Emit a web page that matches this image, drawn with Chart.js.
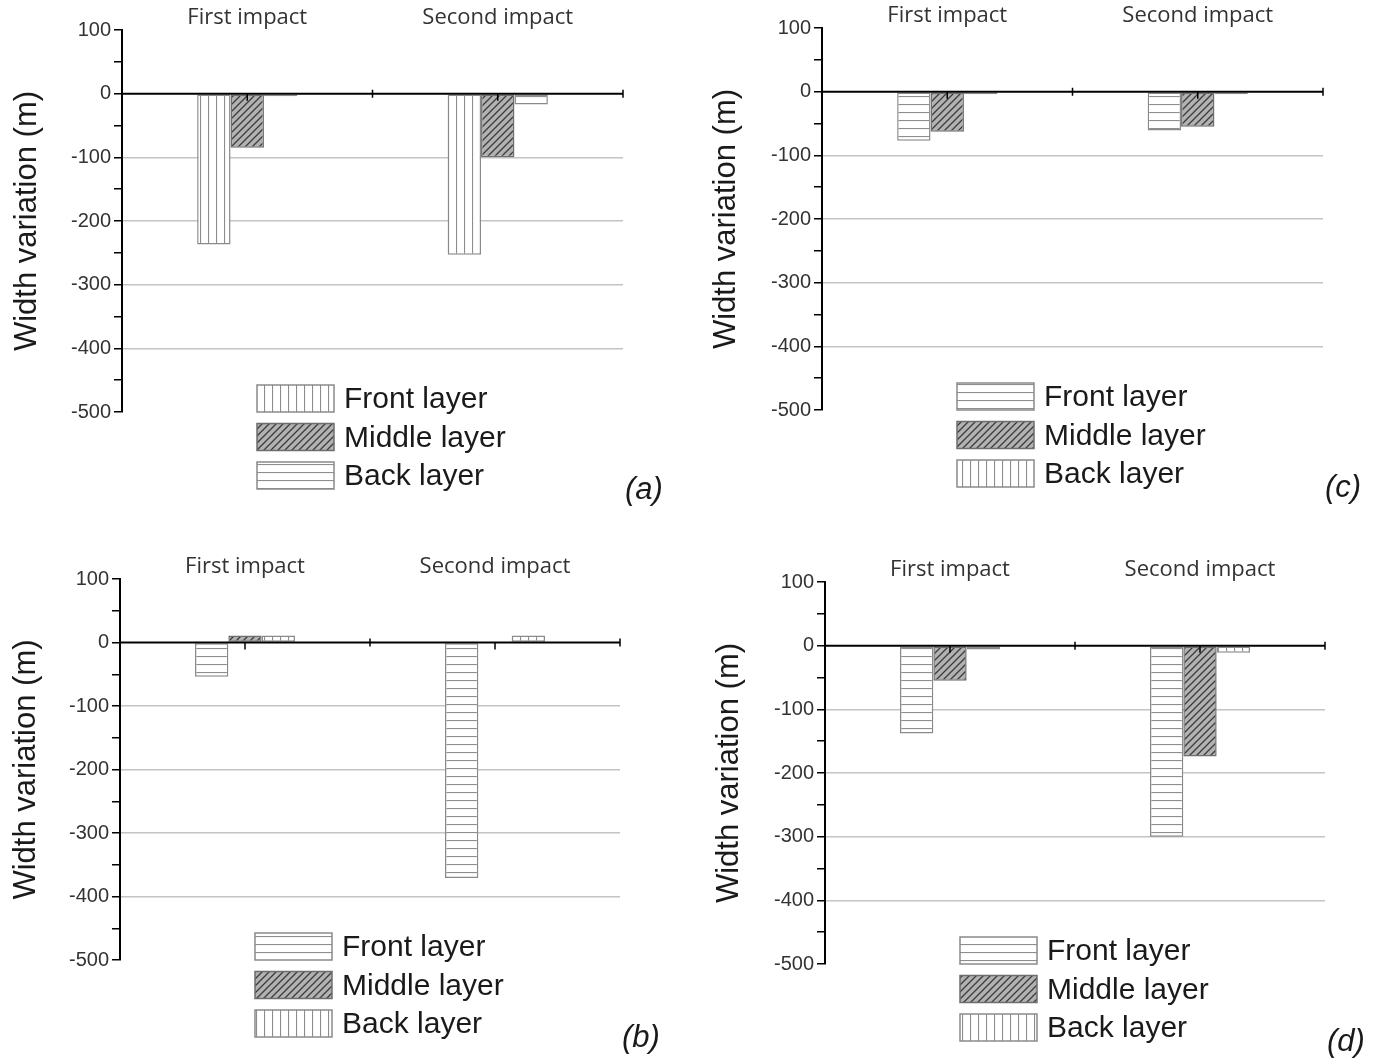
<!DOCTYPE html>
<html>
<head>
<meta charset="utf-8">
<script src="https://cdn.jsdelivr.net/npm/chart.js@4.4.1/dist/chart.umd.min.js"></script>
<style>
  body { margin: 0; background: #fff; width: 1380px; height: 1059px; position: relative; overflow: hidden; }
  canvas { position: absolute; }
</style>
</head>
<body>
<canvas id="chartA" width="690" height="520" style="left:0;top:0"></canvas>
<canvas id="chartC" width="690" height="520" style="left:690px;top:0"></canvas>
<canvas id="chartB" width="690" height="539" style="left:0;top:520px"></canvas>
<canvas id="chartD" width="690" height="539" style="left:690px;top:520px"></canvas>
<script>
const categories = ["First impact", "Second impact"];
const seriesNames = ["Front layer", "Middle layer", "Back layer"];
const yTickValues = [100, 0, -100, -200, -300, -400, -500];

// panel (a)
const frontA = [-237, -253];
const middleA = [-85, -100];
const backA = [-4, -17];
// panel (b)
const frontB = [-54, -371];
const middleB = [11, null];
const backB = [11, 11];
// panel (c)
const frontC = [-77, -61];
const middleC = [-63, -55];
const backC = [-4, -4];
// panel (d)
const frontD = [-138, -300];
const middleD = [-55, -174];
const backD = [-6, -11];

function makePattern(ctx, kind) {
  const s = kind === "diag" ? 7 : 8;
  const c = document.createElement("canvas");
  c.width = s;
  c.height = s;
  const g = c.getContext("2d");
  g.fillStyle = kind === "diag" ? "#b2b2b2" : "#ffffff";
  g.fillRect(0, 0, s, s);
  g.strokeStyle = kind === "diag" ? "#3c3c3c" : "#8e8e8e";
  g.lineWidth = kind === "diag" ? 1.3 : 1.2;
  g.beginPath();
  if (kind === "vert") {
    g.moveTo(0.5, 0);
    g.lineTo(0.5, s);
  } else if (kind === "horiz") {
    g.moveTo(0, 0.5);
    g.lineTo(s, 0.5);
  } else {
    g.moveTo(0, s);
    g.lineTo(s, 0);
    g.moveTo(-1, 1);
    g.lineTo(1, -1);
    g.moveTo(s - 1, s + 1);
    g.lineTo(s + 1, s - 1);
  }
  g.stroke();
  return ctx.createPattern(c, "repeat");
}

const panelDecor = {
  id: "panelDecor",
  afterDatasetsDraw(chart) {
    const { ctx, chartArea } = chart;
    const x = chart.scales.x;
    const y0 = chart.scales.y.getPixelForValue(0);
    ctx.save();
    ctx.strokeStyle = "#000";
    ctx.lineWidth = 2;
    ctx.beginPath();
    ctx.moveTo(chartArea.left, y0);
    ctx.lineTo(chartArea.right, y0);
    ctx.stroke();
    // small ticks along the zero line
    const c0 = x.getPixelForValue(0);
    const c1 = x.getPixelForValue(1);
    const half = (c1 - c0) / 2;
    ctx.lineWidth = 1.5;
    ctx.beginPath();
    [c0, c1].forEach((cx) => {
      ctx.moveTo(cx, y0);
      ctx.lineTo(cx, y0 + 7);
    });
    [c0 + half, chartArea.right].forEach((cx) => {
      ctx.moveTo(cx, y0 - 4);
      ctx.lineTo(cx, y0 + 4);
    });
    ctx.stroke();
    ctx.restore();
  },
  afterDraw(chart, args, opts) {
    const { ctx, chartArea } = chart;
    const x = chart.scales.x;
    ctx.save();
    // category labels above the plot
    ctx.fillStyle = "#333";
    ctx.font = '22px "Open Sans"';
    ctx.textAlign = "center";
    ctx.textBaseline = "middle";
    categories.forEach((cat, i) => {
      ctx.fillText(cat, x.getPixelForValue(i), chartArea.top - 12);
    });
    // legend
    const lx = chartArea.left + 135;
    const ly = chartArea.bottom - 27;
    ctx.textAlign = "left";
    ctx.font = '30px "Liberation Sans"';
    chart.data.datasets.forEach((ds, i) => {
      const top = ly + i * 38.5;
      ctx.fillStyle = ds.backgroundColor;
      ctx.fillRect(lx, top, 77, 27);
      ctx.strokeStyle = ds.borderColor;
      ctx.lineWidth = 1.5;
      ctx.strokeRect(lx, top, 77, 27);
      ctx.fillStyle = "#1a1a1a";
      ctx.fillText(ds.label, lx + 87, top + 15);
    });
    // panel letter
    ctx.font = 'italic 31px "Liberation Sans"';
    ctx.fillText(opts.label, chartArea.right + 2, chartArea.bottom + 78);
    ctx.restore();
  },
};

function buildChart(id, panel) {
  const canvas = document.getElementById(id);
  const ctx = canvas.getContext("2d");
  const kinds = panel.kinds;
  const values = [panel.front, panel.middle, panel.back];
  const datasets = seriesNames.map((name, i) => ({
    label: name,
    data: values[i],
    backgroundColor: makePattern(ctx, kinds[i]),
    borderColor: kinds[i] === "diag" ? "#6e6e6e" : "#8a8a8a",
    borderWidth: 1.5,
    borderSkipped: false,
    barPercentage: 1.0,
    categoryPercentage: 0.4,
  }));
  return new Chart(canvas, {
    type: "bar",
    data: { labels: categories, datasets: datasets },
    options: {
      responsive: false,
      animation: false,
      layout: {
        padding: {
          left: 0,
          right: canvas.width - panel.right,
          top: panel.top,
          bottom: canvas.height - panel.bottom,
        },
      },
      scales: {
        x: {
          display: false,
          afterFit: (s) => {
            s.height = 0;
            s.paddingLeft = 0;
            s.paddingRight = 0;
          },
        },
        y: {
          min: -500,
          max: 100,
          afterFit: (s) => {
            s.width = panel.left;
            s.paddingTop = 0;
            s.paddingBottom = 0;
          },
          border: { display: true, color: "#000", width: 2 },
          grid: {
            color: (c) => {
              const v = c.tick.value;
              return v < 0 && v > -500 && v % 100 === 0 ? "#c4c4c4" : "rgba(0,0,0,0)";
            },
            lineWidth: 1.5,
            drawTicks: true,
            tickLength: 8,
            tickColor: "#000",
            tickWidth: 1.5,
          },
          ticks: {
            stepSize: 50,
            autoSkip: false,
            padding: 3,
            color: "#333",
            font: { family: "Liberation Sans", size: 20 },
            callback: (v) => (yTickValues.includes(v) ? v : ""),
          },
          title: {
            display: true,
            text: "Width variation (m)",
            color: "#1a1a1a",
            font: { family: "Liberation Sans", size: 31 },
            padding: { top: panel.titlePad, bottom: 0 },
          },
        },
      },
      plugins: {
        legend: { display: false },
        tooltip: { enabled: false },
        panelDecor: { label: panel.label },
      },
    },
    plugins: [panelDecor],
  });
}

buildChart("chartA", {
  front: frontA, middle: middleA, back: backA,
  kinds: ["vert", "diag", "horiz"], label: "(a)",
  left: 122, right: 623, top: 30, bottom: 412, titlePad: 9,
});
buildChart("chartC", {
  front: frontC, middle: middleC, back: backC,
  kinds: ["horiz", "diag", "vert"], label: "(c)",
  left: 132, right: 633, top: 28, bottom: 410, titlePad: 18,
});
buildChart("chartB", {
  front: frontB, middle: middleB, back: backB,
  kinds: ["horiz", "diag", "vert"], label: "(b)",
  left: 120, right: 620, top: 59, bottom: 440, titlePad: 8,
});
buildChart("chartD", {
  front: frontD, middle: middleD, back: backD,
  kinds: ["horiz", "diag", "vert"], label: "(d)",
  left: 135, right: 635, top: 62, bottom: 444, titlePad: 21,
});
</script>
</body>
</html>
